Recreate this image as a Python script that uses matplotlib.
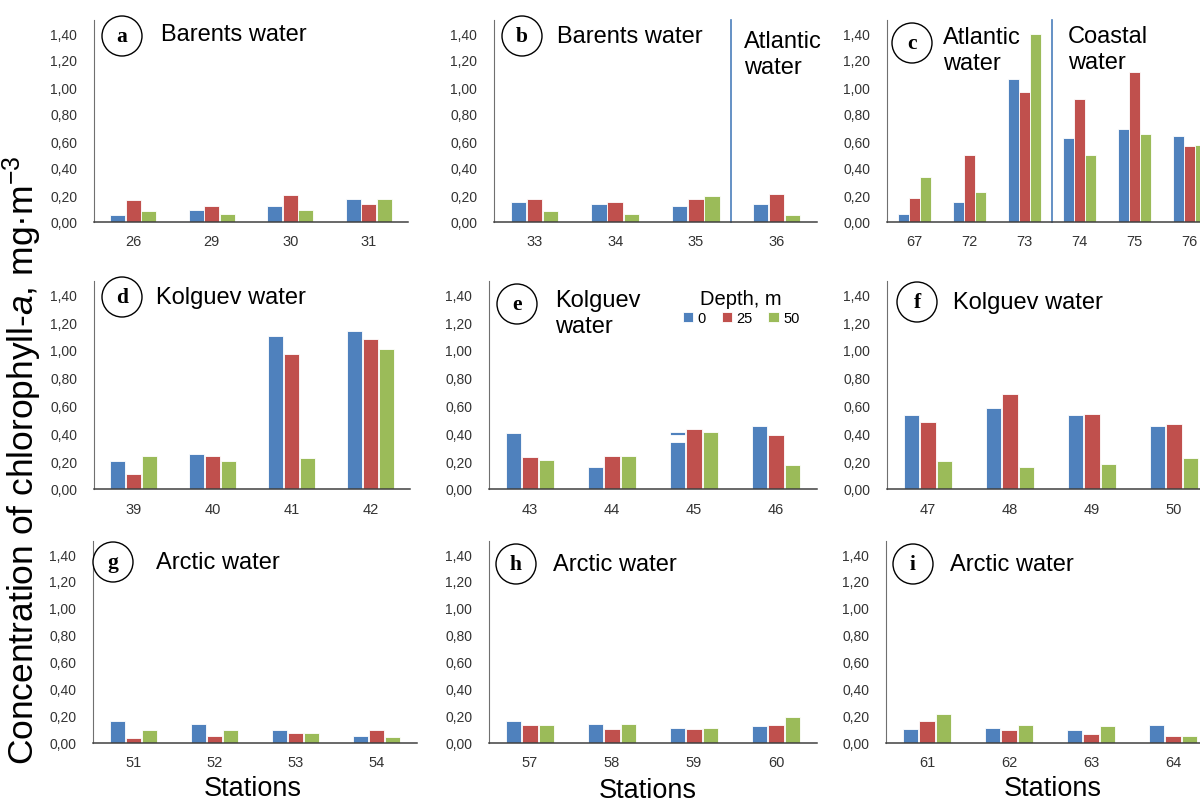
import numpy as np
import matplotlib
matplotlib.use("Agg")
import matplotlib.pyplot as plt
from matplotlib.patches import Circle

plt.rcParams['font.family'] = ['Liberation Sans', 'DejaVu Sans']
plt.rcParams['mathtext.fontset'] = 'custom'
plt.rcParams['mathtext.rm'] = 'Liberation Sans'
plt.rcParams['mathtext.it'] = 'Liberation Sans:italic'

# data: chlorophyll-a (mg/m3) at depth 0, 25, 50 m
depths = ['0', '25', '50']

stations_a = ['26', '29', '30', '31']
a_0 = [0.05, 0.09, 0.12, 0.17]
a_25 = [0.16, 0.12, 0.20, 0.13]
a_50 = [0.08, 0.06, 0.09, 0.17]

stations_b = ['33', '34', '35', '36']
b_0 = [0.15, 0.13, 0.12, 0.13]
b_25 = [0.17, 0.15, 0.17, 0.21]
b_50 = [0.08, 0.06, 0.19, 0.05]

stations_c = ['67', '72', '73', '74', '75', '76']
c_0 = [0.06, 0.15, 1.06, 0.62, 0.69, 0.64]
c_25 = [0.18, 0.50, 0.96, 0.91, 1.11, 0.56]
c_50 = [0.33, 0.22, 1.39, 0.50, 0.65, 0.57]

stations_d = ['39', '40', '41', '42']
d_0 = [0.20, 0.25, 1.10, 1.14]
d_25 = [0.11, 0.24, 0.97, 1.08]
d_50 = [0.24, 0.20, 0.22, 1.01]

stations_e = ['43', '44', '45', '46']
e_0 = [0.40, 0.16, 0.41, 0.45]
e_25 = [0.23, 0.24, 0.43, 0.39]
e_50 = [0.21, 0.24, 0.41, 0.17]
e_break_station = 2          # broken blue bar at station 45
e_break = (0.34, 0.385)

stations_f = ['47', '48', '49', '50']
f_0 = [0.53, 0.58, 0.53, 0.45]
f_25 = [0.48, 0.68, 0.54, 0.47]
f_50 = [0.20, 0.16, 0.18, 0.22]

stations_g = ['51', '52', '53', '54']
g_0 = [0.16, 0.14, 0.09, 0.05]
g_25 = [0.03, 0.05, 0.07, 0.09]
g_50 = [0.09, 0.09, 0.07, 0.04]

stations_h = ['57', '58', '59', '60']
h_0 = [0.16, 0.14, 0.11, 0.12]
h_25 = [0.13, 0.10, 0.10, 0.13]
h_50 = [0.13, 0.14, 0.11, 0.19]

stations_i = ['61', '62', '63', '64']
i_0 = [0.10, 0.11, 0.09, 0.13]
i_25 = [0.16, 0.09, 0.06, 0.05]
i_50 = [0.21, 0.13, 0.12, 0.05]

colors = ['#4F81BD', '#C0504D', '#9BBB59']
W, H = 1200, 803

fig = plt.figure(figsize=(W / 100, H / 100), dpi=100)


def make_ax(x0, x1, base, scale):
    # pixel box -> figure fraction, ylim 0..1.5
    top = base - 1.5 * scale
    return fig.add_axes([x0 / W, 1 - base / H, (x1 - x0) / W, (base - top) / H])


def draw(ax, stations, v0, v25, v50):
    x = np.arange(len(stations))
    bars = []
    for k, vals in enumerate([v0, v25, v50]):
        b = ax.bar(x + (k - 1) * 0.2, vals, 0.19, color=colors[k],
                   edgecolor='white', linewidth=0.6, label=depths[k])
        bars.append(b)
    ax.set_xlim(-0.5, len(stations) - 0.5)
    ax.set_ylim(0, 1.5)
    ax.set_yticks(np.arange(0, 1.41, 0.2))
    ax.set_yticklabels([f"{t:.2f}".replace('.', ',') for t in np.arange(0, 1.41, 0.2)])
    ax.set_xticks(x)
    ax.set_xticklabels(stations)
    ax.tick_params(length=0, colors='#333333')
    ax.tick_params(axis='y', pad=12, labelsize=10)
    ax.tick_params(axis='x', pad=9, labelsize=10.5)
    for s in ['top', 'right']:
        ax.spines[s].set_visible(False)
    ax.spines['left'].set_color('#707070')
    ax.spines['bottom'].set_color('#404040')
    ax.spines['bottom'].set_linewidth(1.1)
    return bars


def badge(px, py, letter):
    c = Circle((px / 100, (H - py) / 100), 0.2, transform=fig.dpi_scale_trans,
               facecolor='white', edgecolor='black', linewidth=1)
    fig.add_artist(c)
    fig.text(px / W, 1 - py / H, letter, ha='center', va='center',
             fontsize=15.5, fontweight='bold', family='Liberation Serif')


def label(px, py, text):
    fig.text(px / W, 1 - py / H, text, ha='left', va='center', fontsize=17,
             linespacing=1.25)


rows = [(223, 135), (490, 139), (743.5, 134.6)]
cols = [[(94, 408), (494, 817), (887, 1217)],
        [(94, 410), (489, 817), (887, 1215)],
        [(93, 417), (489, 817), (886, 1214)]]
panels = [[(stations_a, a_0, a_25, a_50), (stations_b, b_0, b_25, b_50), (stations_c, c_0, c_25, c_50)],
          [(stations_d, d_0, d_25, d_50), (stations_e, e_0, e_25, e_50), (stations_f, f_0, f_25, f_50)],
          [(stations_g, g_0, g_25, g_50), (stations_h, h_0, h_25, h_50), (stations_i, i_0, i_25, i_50)]]

axes = []
for r in range(3):
    row_axes = []
    for c in range(3):
        base, scale = rows[r]
        ax = make_ax(cols[r][c][0], cols[r][c][1], base, scale)
        bars = draw(ax, *panels[r][c])
        row_axes.append((ax, bars))
    axes.append(row_axes)

# water-mass dividers
axes[0][1][0].axvline(2.43, color='#4A7EBB', lw=1.2, clip_on=False)
axes[0][2][0].axvline(2.5, color='#4A7EBB', lw=1.2, clip_on=False)

# broken bar at station 45
ax_e, bars_e = axes[1][1]
ax_e.bar(e_break_station - 0.2, e_break[1] - e_break[0], 0.19, bottom=e_break[0],
         color='white', edgecolor='white', linewidth=0.6)

ax_e.legend(handles=bars_e, title='Depth, m', ncol=3, loc='upper center',
            bbox_to_anchor=(741 / W, 1 - 283 / H), bbox_transform=fig.transFigure,
            frameon=False, fontsize=10.5, title_fontsize=14.5, handlelength=0.7,
            handleheight=0.7, columnspacing=1.1, handletextpad=0.3, borderpad=0,
            labelspacing=0.2)

# panel badges and water labels
badge(122, 37, 'a'); label(161, 35, 'Barents water')
badge(522, 37, 'b'); label(557, 37, 'Barents water')
label(744, 55, 'Atlantic\nwater')
badge(912, 44, 'c'); label(943, 51, 'Atlantic\nwater')
label(1068, 50, 'Coastal\nwater')
badge(122, 298, 'd'); label(156, 298, 'Kolguev water')
badge(517, 305, 'e'); label(555, 314, 'Kolguev\nwater')
badge(917, 303, 'f'); label(953, 303, 'Kolguev water')
badge(113, 563, 'g'); label(156, 563, 'Arctic water')
badge(516, 565, 'h'); label(553, 565, 'Arctic water')
badge(913, 565, 'i'); label(950, 565, 'Arctic water')

for px, py in [(253, 789), (648, 791), (1053, 789)]:
    fig.text(px / W, 1 - py / H, 'Stations', ha='center', va='center', fontsize=19.5)

fig.text(22 / W, 1 - 460 / H, 'Concentration of chlorophyll-$\\it{a}$, mg·m$^{\\mathrm{-3}}$',
         rotation=90, ha='center', va='center', fontsize=25.5)

fig.savefig('out.png', dpi=100)
